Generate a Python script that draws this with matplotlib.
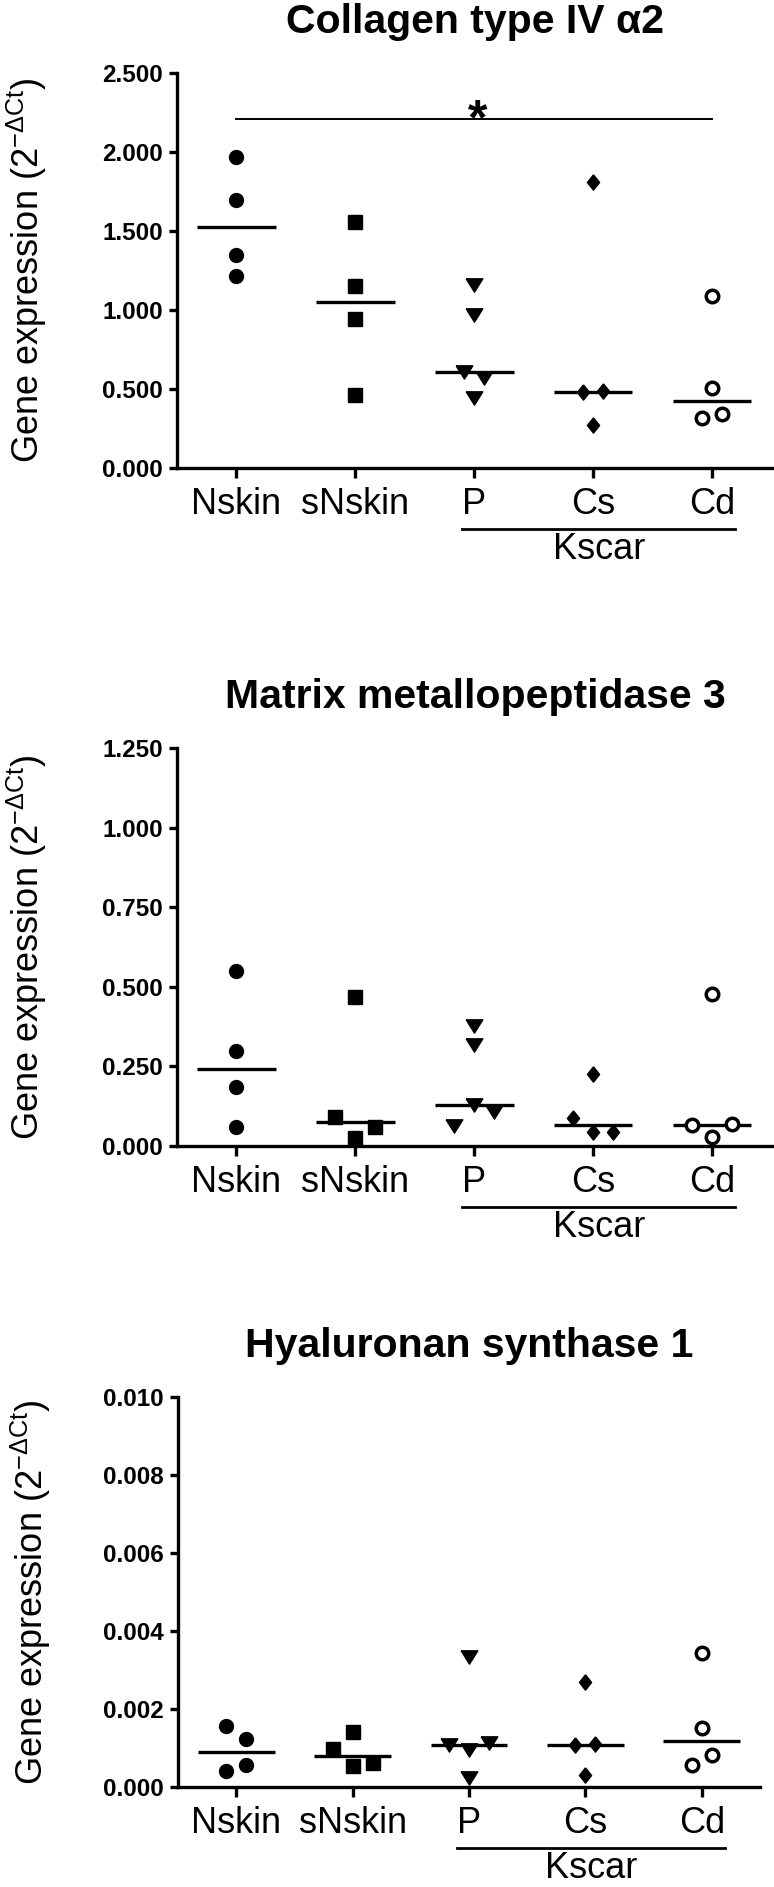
import matplotlib
matplotlib.use('Agg')
import matplotlib.pyplot as plt
import matplotlib.transforms as mtransforms
import numpy as np

plt.rcParams['font.family'] = ['Liberation Sans', 'DejaVu Sans']
plt.rcParams['mathtext.fontset'] = 'custom'
plt.rcParams['mathtext.rm'] = 'Liberation Sans'
plt.rcParams['mathtext.it'] = 'Liberation Sans:italic'
plt.rcParams['mathtext.bf'] = 'Liberation Sans:bold'

groups = ['Nskin', 'sNskin', 'P', 'Cs', 'Cd']

# Collagen type IV alpha2 (2^-dCt)
col_nskin = [1.966, 1.698, 1.351, 1.214]
col_snskin = [1.559, 1.155, 0.946, 0.464]
col_p = [1.160, 0.968, 0.608, 0.568, 0.444]
col_cs = [1.813, 0.480, 0.485, 0.270]
col_cd = [1.088, 0.507, 0.315, 0.342]

# Matrix metallopeptidase 3
mmp_nskin = [0.551, 0.299, 0.186, 0.060]
mmp_snskin = [0.469, 0.090, 0.026, 0.060]
mmp_p = [0.378, 0.316, 0.062, 0.130, 0.107]
mmp_cs = [0.226, 0.087, 0.043, 0.044]
mmp_cd = [0.477, 0.066, 0.028, 0.068]

# Hyaluronan synthase 1
has_nskin = [0.00156, 0.00123, 0.00042, 0.00056]
has_snskin = [0.00141, 0.00098, 0.00055, 0.00061]
has_p = [0.00334, 0.00108, 0.00096, 0.00113, 0.00022]
has_cs = [0.00270, 0.00108, 0.00109, 0.00032]
has_cd = [0.00344, 0.00151, 0.00056, 0.00083]

titles = ['Collagen type IV α2', 'Matrix metallopeptidase 3', 'Hyaluronan synthase 1']
ytops = [2.5, 1.25, 0.010]
ysteps = [0.5, 0.25, 0.002]

W, H = 774, 1887
fig = plt.figure(figsize=(W / 100, H / 100), dpi=100)

# axes boxes in pixels: left, bottom(from top), width, height
boxes = [(177, 468, 597, 395), (177, 1146, 597, 398), (178, 1787, 582, 390)]
xmaxs = [4.52, 4.52, 4.50]

tri = [(-1, 0.8), (1, 0.8), (0, -0.8), (-1, 0.8)]
dia = [(0, 1), (0.8, 0), (0, -1), (-0.8, 0), (0, 1)]
styles = [
    dict(marker='o', ms=10, mfc='k', mec='k'),
    dict(marker='s', ms=10, mfc='k', mec='k'),
    dict(marker=tri, ms=12, mfc='k', mec='k'),
    dict(marker=dia, ms=11, mfc='k', mec='k'),
    dict(marker='o', ms=9, mfc='white', mec='k', mew=2.5),
]


def spread(ax, xpos, vals, thresh=15.5, step=20):
    vals = np.asarray(vals, float)
    pts = ax.transData.transform(np.column_stack([np.full(len(vals), xpos), vals]))
    ypix = pts[:, 1]
    order = np.argsort(-ypix)
    clusters = [[order[0]]]
    for a, b in zip(order[:-1], order[1:]):
        if ypix[a] - ypix[b] < thresh:
            clusters[-1].append(b)
        else:
            clusters.append([b])
    xp = np.zeros(len(vals))
    for c in clusters:
        c = sorted(c)
        n = len(c)
        for k, i in enumerate(c):
            xp[i] = pts[0, 0] + (k - (n - 1) / 2) * step
    return ax.transData.inverted().transform(np.column_stack([xp, ypix]))[:, 0]


data = [
    [col_nskin, col_snskin, col_p, col_cs, col_cd],
    [mmp_nskin, mmp_snskin, mmp_p, mmp_cs, mmp_cd],
    [has_nskin, has_snskin, has_p, has_cs, has_cd],
]

axes = []
for k in range(3):
    l, b, w, h = boxes[k]
    ax = fig.add_axes([l / W, (H - b) / H, w / W, h / H])
    axes.append(ax)
    ax.set_xlim(-0.5, xmaxs[k])
    ax.set_ylim(0, ytops[k])
    for s in ['top', 'right']:
        ax.spines[s].set_visible(False)
    for s in ['left', 'bottom']:
        ax.spines[s].set_linewidth(2.4)
    yt = np.arange(0, ytops[k] + ysteps[k] / 2, ysteps[k])
    ax.set_yticks(yt)
    ax.set_yticklabels(['%.3f' % v for v in yt], fontweight='bold', fontsize=17.5)
    ax.set_xticks(range(len(groups)))
    ax.set_xticklabels(groups, fontsize=26)
    ax.tick_params(axis='y', direction='out', length=6, width=2.4, pad=4)
    ax.tick_params(axis='x', direction='out', length=7, width=2.4, pad=6.5)
    ax.set_title(titles[k], fontsize=29.5, fontweight='bold', pad=29)
    ax.set_ylabel(r'Gene expression (2$^{\mathrm{-ΔCt}}$)', fontsize=26)
    ax.yaxis.set_label_coords(-0.215, 0.5)

    for i, vals in enumerate(data[k]):
        xs = spread(ax, i, vals)
        ax.plot(xs, vals, ls='none', clip_on=False, zorder=3, **styles[i])
        ax.hlines(np.median(vals), i - 0.33, i + 0.33, color='k', lw=2.4, zorder=2)

# significance bar on first panel
ax = axes[0]
ax.plot([0, 4], [2.21, 2.21], color='k', lw=1.4, clip_on=False)
ax.annotate('*', xy=(2.03, 2.21), xytext=(0, -11), textcoords='offset points',
            ha='center', va='baseline', fontsize=36, fontweight='bold')

fig.canvas.draw()
r = fig.canvas.get_renderer()
for ax in axes:
    labs = ax.get_xticklabels()
    x0 = labs[2].get_window_extent(r).x0
    x1 = labs[4].get_window_extent(r).x1
    inv = ax.transData.inverted()
    d0 = inv.transform((x0, 0))[0]
    d1 = inv.transform((x1, 0))[0]
    tline = mtransforms.offset_copy(ax.get_xaxis_transform(), fig=fig, y=-61, units='dots')
    ax.plot([d0, d1], [0, 0], color='k', lw=2, transform=tline, clip_on=False)
    ttext = mtransforms.offset_copy(ax.get_xaxis_transform(), fig=fig, y=-91, units='dots')
    ax.text((d0 + d1) / 2, 0, 'Kscar', transform=ttext, ha='center', va='baseline',
            fontsize=26, clip_on=False)

fig.savefig('out.png', dpi=100)
